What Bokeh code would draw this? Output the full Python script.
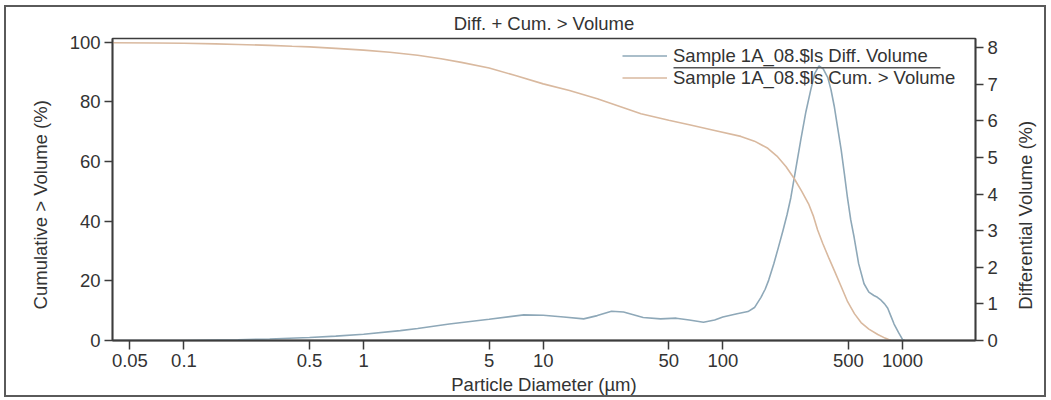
import math
from bokeh.plotting import figure
from bokeh.models import (LinearAxis, Range1d, FixedTicker, CustomJSTickFormatter, Legend, LegendItem,
                          InlineStyleSheet, BoxAnnotation)
from bokeh.embed import file_html
from bokeh.resources import INLINE

# ---- data ----
diameter_diff = [0.04, 0.1, 0.2, 0.3, 0.5, 0.7, 1.0, 1.6, 2.0, 3.0, 5.0, 7.8, 10, 13, 16.8, 20,
                 24, 28, 36, 45, 55, 65, 78, 90, 100, 120, 138, 150, 163, 172, 180, 192, 204, 216, 228, 239,
                 255, 272, 290, 309, 325, 343, 362, 384, 400, 417, 436, 456, 475, 494, 515, 538, 570, 611,
                 650, 693, 725, 760, 795, 828, 860, 898, 950, 1000, 1030]
diff_volume = [0.0, 0.0, 0.02, 0.04, 0.08, 0.12, 0.17, 0.27, 0.33, 0.45, 0.58, 0.70, 0.69, 0.64, 0.59, 0.68,
               0.80, 0.78, 0.63, 0.59, 0.61, 0.56, 0.50, 0.56, 0.64, 0.73, 0.79, 0.90, 1.18, 1.4, 1.65, 2.09, 2.55, 3.0, 3.45, 3.9,
               4.7, 5.5, 6.25, 6.86, 7.3, 7.5, 7.42, 7.18, 6.85, 6.4, 5.8, 5.2, 4.55, 3.9, 3.3, 2.82, 2.1, 1.55,
               1.32, 1.23, 1.18, 1.1, 1.0, 0.88, 0.68, 0.45, 0.22, 0.03, 0.0]

diameter_cum = [0.04, 0.07, 0.1, 0.15, 0.2, 0.3, 0.4, 0.5, 0.7, 1.0, 1.4, 2.0, 2.7, 3.5, 5.0, 7.0, 10, 14,
                20, 28, 35, 50, 66, 90, 126, 150, 178, 200, 225, 250, 275, 300, 320, 337, 360, 390, 417,
                460, 495, 540, 588, 650, 729, 800, 861]
cum_volume = [99.8, 99.7, 99.6, 99.4, 99.2, 98.9, 98.6, 98.4, 97.9, 97.3, 96.6, 95.6, 94.4, 93.2, 91.3, 88.8, 86.0, 83.8,
              81.0, 78.0, 76.0, 73.8, 72.2, 70.4, 68.4, 66.8, 64.4, 61.8, 58.2, 54.2, 50.0, 45.8, 41.5, 37.0, 32.5, 27.5, 23.5,
              17.5, 13.0, 9.0, 6.0, 3.8, 2.0, 0.8, 0.0]

x_ticks = [0.05, 0.1, 0.5, 1.0, 5.0, 10.0, 50.0, 100.0, 500.0, 1000.0]
x_tick_labels = ["0.05", "0.1", "0.5", "1", "5", "10", "50", "100", "500", "1000"]
left_ticks = [0, 20, 40, 60, 80, 100]
right_ticks = [0, 1, 2, 3, 4, 5, 6, 7, 8]

FONT = "Liberation Sans"
FS = "18.5px"
TXT = "#333333"
AX = "#3c3c3c"
DIFF_COLOR = "#8ea8b8"
CUM_COLOR = "#d9b99f"
NBSP = "\u00a0"

p = figure(width=1051, height=400, x_axis_type="log",
           x_range=Range1d(0.04, 2550), y_range=Range1d(0, 101.2),
           output_backend="svg", toolbar_location=None,
           title="Diff. + Cum. > Volume",
           min_border_left=112, min_border_right=76, min_border_top=38, min_border_bottom=60)
p.extra_y_ranges = {"diff": Range1d(0, 8.25)}

p.title.align = "center"
p.title.text_font = FONT
p.title.text_font_size = FS
p.title.text_font_style = "normal"
p.title.text_color = TXT
p.title.standoff = 10

p.xgrid.visible = False
p.ygrid.visible = False
p.outline_line_color = AX
p.outline_line_width = 1.5
p.background_fill_color = "white"
p.border_fill_color = "white"
p.stylesheets = [InlineStyleSheet(css="""
:host { position: relative; }
:host::after { content: ""; position: absolute; left: 4px; top: 5px; width: 1042px; height: 392px;
  border: 2px solid #5a5a5a; box-sizing: border-box; pointer-events: none; z-index: 1000; }
""")]

r_diff = p.line(diameter_diff, diff_volume, y_range_name="diff", line_color=DIFF_COLOR, line_width=1.6)
r_cum = p.line(diameter_cum, cum_volume, line_color=CUM_COLOR, line_width=1.6)

# no-break spaces shift the end-anchored, upward-reading axis titles to the reference positions
ax_right = LinearAxis(y_range_name="diff", axis_label=NBSP * 6 + "Differential Volume (%)")
p.add_layout(ax_right, "right")

p.xaxis.ticker = FixedTicker(ticks=x_ticks, minor_ticks=[])
p.xaxis.formatter = CustomJSTickFormatter(args=dict(vals=x_ticks, labels=x_tick_labels), code="""
let best = 0; let d = 1e9;
for (let i = 0; i < vals.length; i++) {
  const e = Math.abs(Math.log10(vals[i]) - Math.log10(tick));
  if (e < d) { d = e; best = i; }
}
return labels[best];
""")
p.xaxis.axis_label = "Particle Diameter (\u00b5m)"
p.yaxis[0].ticker = FixedTicker(ticks=left_ticks, minor_ticks=[])
p.yaxis[0].axis_label = "Cumulative > Volume (%)" + NBSP * 12
ax_right.ticker = FixedTicker(ticks=right_ticks, minor_ticks=[])

for ax in [p.xaxis[0], p.yaxis[0], ax_right]:
    ax.axis_line_color = AX
    ax.axis_line_width = 1.8
    ax.major_tick_line_color = AX
    ax.major_tick_line_width = 1.5
    ax.major_tick_out = 8
    ax.major_tick_in = 0
    ax.minor_tick_line_color = None
    ax.major_label_text_font = FONT
    ax.major_label_text_font_size = FS
    ax.major_label_text_color = TXT
    ax.major_label_standoff = 4
    ax.axis_label_text_font = FONT
    ax.axis_label_text_font_size = FS
    ax.axis_label_text_font_style = "normal"
    ax.axis_label_text_color = TXT

p.xaxis[0].major_tick_out = 9
p.xaxis[0].axis_label_standoff = 4
p.yaxis[0].axis_label_standoff = 26
ax_right.axis_label_standoff = 25
try:
    ax_right.axis_label_orientation = math.pi / 2
    ax_right.axis_label_align = "start"
    p.yaxis[0].axis_label_orientation = math.pi / 2
    p.yaxis[0].axis_label_align = "end"
except Exception:
    pass

legend = Legend(items=[LegendItem(label="Sample 1A_08.$ls Diff. Volume", renderers=[r_diff]),
                       LegendItem(label="Sample 1A_08.$ls Cum. > Volume", renderers=[r_cum])],
                location=(506, 247.5))
legend.border_line_alpha = 0
legend.background_fill_alpha = 0
legend.label_text_font = FONT
legend.label_text_font_size = FS
legend.label_text_color = TXT
legend.glyph_width = 45
legend.label_standoff = 6
legend.label_height = 21
legend.glyph_height = 21
legend.spacing = 0
legend.padding = 4
legend.margin = 0
p.add_layout(legend)

# underline below the first legend entry (as in the reference)
p.add_layout(BoxAnnotation(left=561, right=828, top=273.5, bottom=272,
                           left_units="screen", right_units="screen", top_units="screen", bottom_units="screen",
                           fill_color="#555555", fill_alpha=1, line_alpha=0))

open("out.html", "w").write(file_html(p, INLINE))
